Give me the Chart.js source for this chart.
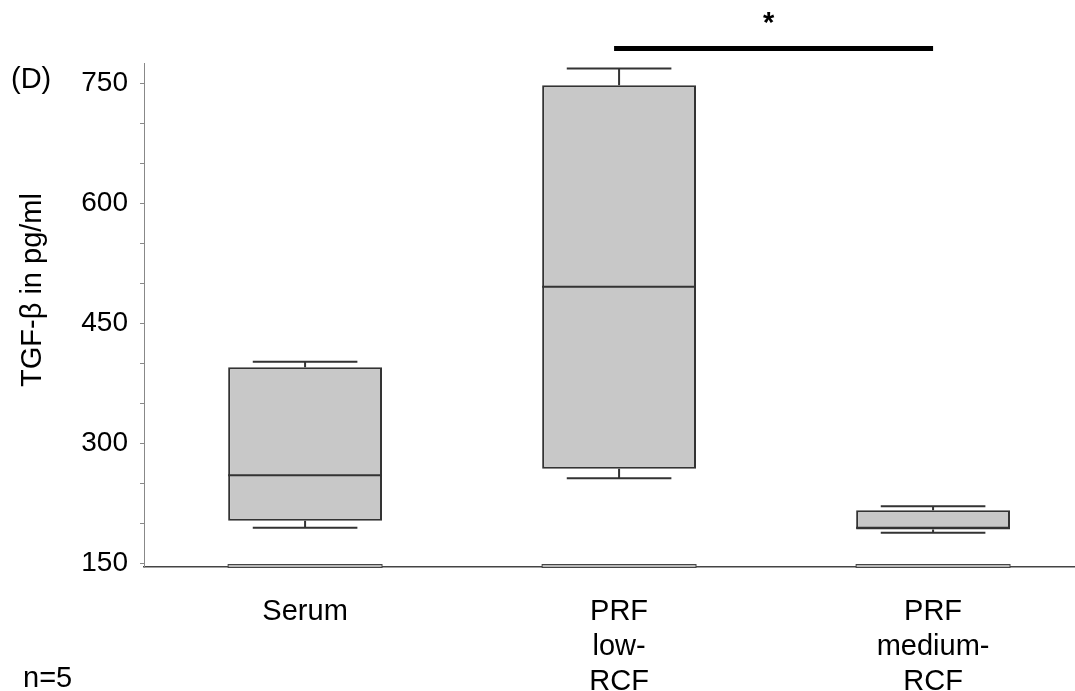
<!DOCTYPE html>
<html>
<head>
<meta charset="utf-8">
<script src="https://cdn.jsdelivr.net/npm/chart.js@4"></script>
<style>
  html, body { margin: 0; padding: 0; background: #fff; }
  #wrap { width: 1075px; height: 691px; }
</style>
</head>
<body>
<div id="wrap"><canvas id="tgfChart" width="1075" height="691"></canvas></div>
<script>
// groups on the x axis
const groups = [['Serum'], ['PRF', 'low-', 'RCF'], ['PRF', 'medium-', 'RCF']];
// box plot values (pg/ml)
const whiskerLow  = [194, 256, 188];
const q1          = [203, 268, 192];
const medians     = [260, 496, 194];
const q3          = [395, 748, 216];
const whiskerHigh = [402, 769, 221];
// y axis ticks, labels every 150
const yTicks = [150, 200, 250, 300, 350, 400, 450, 500, 550, 600, 650, 700, 750];
// significance bracket between groups
const sigPair = [1, 2];
const sigLabel = '*';

const FONT = '"Liberation Sans", Arial, Helvetica, sans-serif';
const DARK = '#333';

// draws medians, whiskers, baseline stubs and extra labels
const boxExtras = {
    id: 'boxExtras',
    afterDatasetsDraw(chart) {
        const ctx = chart.ctx;
        const y = chart.scales.y;
        const x = chart.scales.x;
        const area = chart.chartArea;
        const meta = chart.getDatasetMeta(0);

        ctx.save();
        meta.data.forEach((bar, i) => {
            const half = bar.width / 2;
            const capHalf = half * 0.68;

            // flat stub on the axis
            ctx.fillStyle = '#b8b8b8';
            ctx.strokeStyle = '#444';
            ctx.lineWidth = 1;
            ctx.fillRect(bar.x - half, area.bottom - 2.5, bar.width, 3);
            ctx.strokeRect(bar.x - half, area.bottom - 2.5, bar.width, 3);

            ctx.strokeStyle = DARK;
            ctx.lineWidth = 2;

            // median
            const ym = y.getPixelForValue(medians[i]);
            ctx.beginPath();
            ctx.moveTo(bar.x - half, ym);
            ctx.lineTo(bar.x + half, ym);
            ctx.stroke();

            // whiskers
            const yHi = y.getPixelForValue(whiskerHigh[i]);
            const yQ3 = y.getPixelForValue(q3[i]);
            const yLo = y.getPixelForValue(whiskerLow[i]);
            const yQ1 = y.getPixelForValue(q1[i]);
            ctx.beginPath();
            ctx.moveTo(bar.x, yQ3);
            ctx.lineTo(bar.x, yHi);
            ctx.moveTo(bar.x - capHalf, yHi);
            ctx.lineTo(bar.x + capHalf, yHi);
            ctx.moveTo(bar.x, yQ1);
            ctx.lineTo(bar.x, yLo);
            ctx.moveTo(bar.x - capHalf, yLo);
            ctx.lineTo(bar.x + capHalf, yLo);
            ctx.stroke();
        });

        // significance bar
        const x1 = x.getPixelForValue(sigPair[0]) - 5;
        const x2 = x.getPixelForValue(sigPair[1]);
        ctx.fillStyle = '#000';
        ctx.fillRect(x1, 46, x2 - x1, 5);
        ctx.font = 'bold 29px ' + FONT;
        ctx.textAlign = 'center';
        ctx.textBaseline = 'alphabetic';
        ctx.fillText(sigLabel, (x1 + x2) / 2 - 5, 32);

        // panel letter and n
        ctx.textAlign = 'left';
        ctx.font = '29px ' + FONT;
        ctx.fillText('(D)', 11, 88);
        ctx.fillText('n=5', 23, 687);

        // y axis title
        ctx.translate(41, 290);
        ctx.rotate(-Math.PI / 2);
        ctx.textAlign = 'center';
        ctx.fillText('TGF-\u03b2 in pg/ml', 0, 0);
        ctx.restore();
    }
};

const ctx = document.getElementById('tgfChart').getContext('2d');
new Chart(ctx, {
    type: 'bar',
    data: {
        datasets: [{
            data: groups.map((g, i) => ({ x: i, y: [q1[i], q3[i]] })),
            backgroundColor: '#c8c8c8',
            borderColor: DARK,
            borderWidth: 2,
            borderSkipped: false,
            categoryPercentage: 1,
            barPercentage: 0.49
        }]
    },
    options: {
        responsive: false,
        animation: false,
        layout: { padding: { top: 63, right: 0, left: 0, bottom: 0 } },
        plugins: {
            legend: { display: false },
            tooltip: { enabled: false }
        },
        scales: {
            x: {
                type: 'linear',
                offset: false,
                min: -0.513,
                max: 2.452,
                afterBuildTicks: (scale) => {
                    scale.ticks = groups.map((g, i) => ({ value: i }));
                },
                afterFit: (scale) => { scale.height = 124; },
                grid: { display: false },
                border: { display: true, color: '#444', width: 1.5 },
                ticks: {
                    autoSkip: false,
                    maxRotation: 0,
                    padding: 20,
                    color: '#000',
                    font: { family: FONT, size: 29 },
                    callback: (v) => groups[Math.round(v)]
                }
            },
            y: {
                min: 145,
                max: 776,
                afterBuildTicks: (scale) => {
                    scale.ticks = yTicks.map(v => ({ value: v }));
                },
                afterFit: (scale) => { scale.width = 144; },
                grid: { drawOnChartArea: false, drawTicks: true, tickLength: 4, color: '#888' },
                border: { display: true, color: '#888', width: 1 },
                ticks: {
                    autoSkip: false,
                    padding: 12,
                    color: '#000',
                    font: { family: FONT, size: 28 },
                    callback: (v) => (v % 150 === 0 ? String(v) : '')
                }
            }
        }
    },
    plugins: [boxExtras]
});
</script>
</body>
</html>
